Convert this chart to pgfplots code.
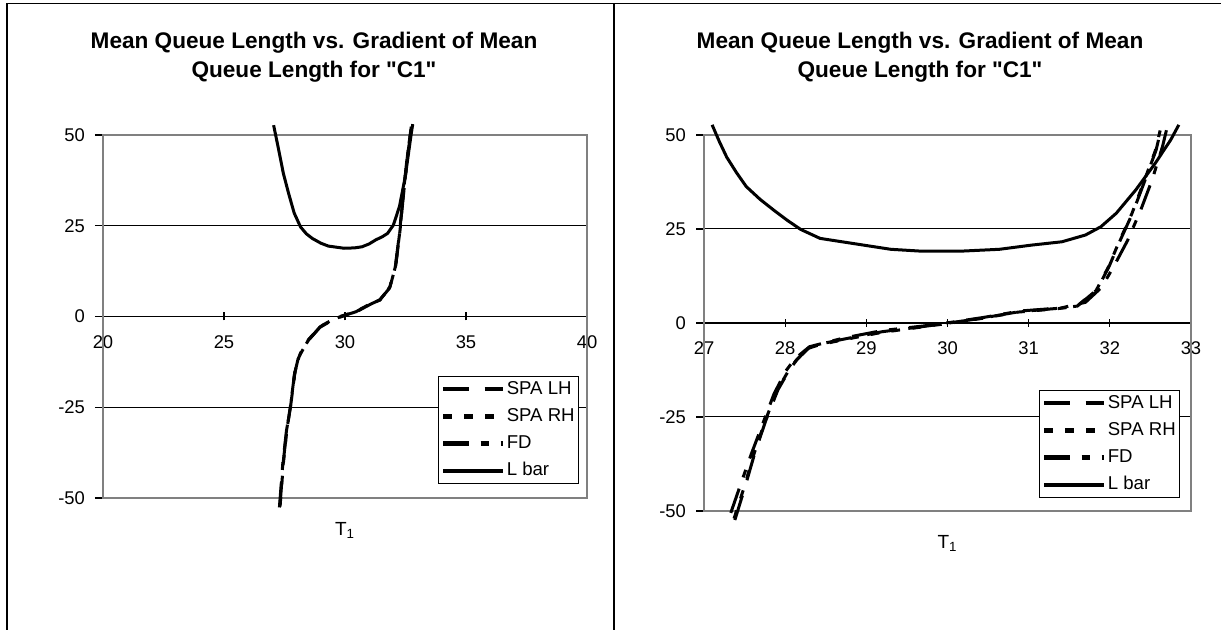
\documentclass[border=0pt]{standalone}
\usepackage{fontspec}
\setmainfont{Liberation Sans}
\usepackage{pgfplots}
\pgfplotsset{compat=1.18}

\pgfplotstableread{
x y
27.31 -52.4
27.45 -40.0
27.60 -31.0
27.75 -24.8
27.92 -15.7
28.05 -12.0
28.16 -10.2
28.49 -6.5
28.98 -2.8
29.47 -1.0
29.79 -0.1
30.45 1.3
31.10 3.6
31.43 4.5
31.84 7.8
32.08 13.7
32.25 22.9
32.41 33.9
32.57 44.0
32.74 52.3
}\leftLH
\pgfplotstableread{
x y
27.32 -52.0
27.46 -40.0
27.61 -30.5
27.76 -24.3
27.93 -15.4
28.06 -11.8
28.17 -10.0
28.50 -6.3
28.99 -2.7
29.48 -0.9
29.80 0.0
30.46 1.4
31.11 3.7
31.44 4.6
31.85 7.9
32.09 13.9
32.26 23.1
32.42 34.1
32.58 44.2
32.74 52.0
}\leftRH
\pgfplotstableread{
x y
27.29 -52.6
27.43 -40.5
27.58 -31.5
27.74 -25.0
27.91 -16.0
28.04 -12.2
28.15 -10.4
28.47 -6.7
28.96 -3.0
29.45 -1.1
29.78 -0.2
30.44 1.2
31.09 3.5
31.45 4.6
31.86 8.2
32.10 14.2
32.27 23.5
32.43 34.5
32.59 44.6
32.76 52.6
}\leftFD
\pgfplotstableread{
x y
27.05 52.7
27.26 45.9
27.45 39.5
27.67 33.9
27.90 28.5
28.16 24.7
28.40 22.8
28.65 21.5
29.00 20.2
29.31 19.4
29.96 18.8
30.40 18.9
30.70 19.2
31.00 20.0
31.27 21.1
31.55 22.0
31.76 22.9
32.00 25.2
32.25 30.3
32.49 38.5
32.74 50.5
32.80 53.0
}\leftL

\pgfplotstableread{
x y
27.38 -52.4
27.50 -44.0
27.62 -35.0
27.76 -26.0
27.91 -17.8
28.05 -12.5
28.15 -9.6
28.30 -6.5
28.43 -5.6
28.72 -4.3
29.20 -2.3
29.68 -1.0
30.02 0.0
30.40 1.2
30.88 3.0
31.36 3.9
31.60 4.5
31.84 8.8
31.99 15.0
32.13 22.1
32.28 29.2
32.42 37.2
32.57 46.0
32.63 51.5
}\rightLH
\pgfplotstableread{
x y
27.37 -52.0
27.49 -44.0
27.61 -35.2
27.75 -26.2
27.90 -18.0
28.04 -12.7
28.14 -9.8
28.29 -6.7
28.42 -5.8
28.71 -4.5
29.19 -2.5
29.67 -1.1
30.01 -0.1
30.39 1.1
30.87 2.9
31.35 3.8
31.59 4.4
31.83 8.6
31.98 14.8
32.12 21.9
32.27 29.0
32.41 37.0
32.56 45.8
32.62 51.2
}\rightRH
\pgfplotstableread{
x y
27.33 -50.5
27.45 -43.0
27.58 -35.0
27.72 -27.0
27.86 -19.0
28.00 -13.0
28.12 -9.5
28.30 -6.3
28.72 -4.0
29.20 -2.0
29.70 -0.8
30.05 0.2
30.45 1.5
30.90 3.2
31.40 4.0
31.70 5.5
31.90 9.5
32.06 15.5
32.22 22.0
32.38 30.0
32.52 38.0
32.65 47.0
32.70 51.5
}\rightFD
\pgfplotstableread{
x y
27.10 52.7
27.19 48.2
27.28 44.1
27.40 40.0
27.52 36.3
27.69 32.9
27.86 30.0
28.02 27.4
28.19 24.9
28.43 22.5
28.82 21.2
29.30 19.6
29.68 19.1
30.16 19.1
30.64 19.6
31.03 20.7
31.41 21.6
31.70 23.4
31.89 25.6
32.08 29.2
32.32 35.4
32.56 42.5
32.75 48.7
32.85 52.7
}\rightL

\pgfplotsset{
  lhstyle/.style={black, line width=1.5pt, dash pattern=on 12.8pt off 8pt},
  rhstyle/.style={black, line width=1.5pt, dash pattern=on 4.3pt off 6.2pt},
  fdstyle/.style={black, line width=1.5pt, dash pattern=on 12.8pt off 6pt on 4pt off 6pt},
  lbstyle/.style={black, line width=1.5pt, solid},
  excel/.style={
    scale only axis,
    clip=false,
    axis x line=middle,
    axis y line=left,
    axis line style={-, black, line width=0.6pt},
    hide obscured x ticks=false,
    hide obscured y ticks=false,
    ymin=-50, ymax=50,
    ytick={-50,-25,0,25,50},
    ymajorgrids,
    grid style={black, line width=0.5pt},
    xtick align=center,
    ytick align=outside,
    major tick length=4pt,
    tick style={black, line width=0.6pt},
    /pgf/number format/assume math mode=true,
    tick label style={font=\fontsize{9.2}{10}\selectfont},
    xticklabel style={yshift=-4pt},
    yticklabel style={xshift=-1.5pt},
    xlabel={T\textsubscript{1}},
    xlabel style={at={(rel axis cs:0.5,0)}, anchor=center, yshift=-16pt, font=\fontsize{9.5}{10}\selectfont},
    legend cell align=left,
    legend style={anchor=south east, draw=black, line width=0.5pt, fill=white,
      font=\fontsize{9.3}{10}\selectfont, inner xsep=1pt, inner ysep=1pt, row sep=3pt,
      nodes={inner sep=0.8pt, text height=7pt, text depth=2pt}},
    legend image code/.code={\draw[#1, line width=2.2pt] (0pt,0pt) -- (30pt,0pt);},
  }
}

\begin{document}
\begin{tikzpicture}
\useasboundingbox (0,0) rectangle (610.5pt,-315pt);
\fill[white] (0,0) rectangle (610.5pt,-315pt);
\draw[black, line width=0.8pt] (3.5pt,-315pt) -- (3.5pt,-1.75pt) -- (610.5pt,-1.75pt);
\draw[black, line width=0.8pt] (307pt,-1.75pt) -- (307pt,-315pt);

\node[font=\bfseries\fontsize{11.3}{14.5}\selectfont, align=center] at (157pt,-28.75pt)
  {Mean Queue Length vs. Gradient of Mean\\Queue Length for \textquotedbl C1\textquotedbl};
\node[font=\bfseries\fontsize{11.3}{14.5}\selectfont, align=center] at (460pt,-28.75pt)
  {Mean Queue Length vs. Gradient of Mean\\Queue Length for \textquotedbl C1\textquotedbl};

\begin{axis}[excel,
  at={(51.5pt,-249pt)}, anchor=south west,
  width=242pt, height=181.5pt,
  xmin=20, xmax=40, xtick={20,25,30,35,40},
  legend style={at={(rel axis cs:0.983,0.039)}},
]
\draw[gray, line width=0.8pt] (rel axis cs:0,0) rectangle (rel axis cs:1,1);
\addplot[lhstyle] table {\leftLH};
\addplot[rhstyle] table {\leftRH};
\addplot[fdstyle] table {\leftFD};
\addplot[lbstyle] table {\leftL};
\legend{SPA LH, SPA RH, FD, L bar}
\end{axis}

\begin{axis}[excel,
  at={(352pt,-255.5pt)}, anchor=south west,
  width=243.5pt, height=188pt,
  xmin=27, xmax=33, xtick={27,28,29,30,31,32,33},
  legend style={at={(rel axis cs:0.977,0.035)}},
]
\draw[gray, line width=0.8pt] (rel axis cs:0,0) rectangle (rel axis cs:1,1);
\addplot[lhstyle] table {\rightLH};
\addplot[rhstyle] table {\rightRH};
\addplot[fdstyle] table {\rightFD};
\addplot[lbstyle] table {\rightL};
\legend{SPA LH, SPA RH, FD, L bar}
\end{axis}
\end{tikzpicture}
\end{document}
